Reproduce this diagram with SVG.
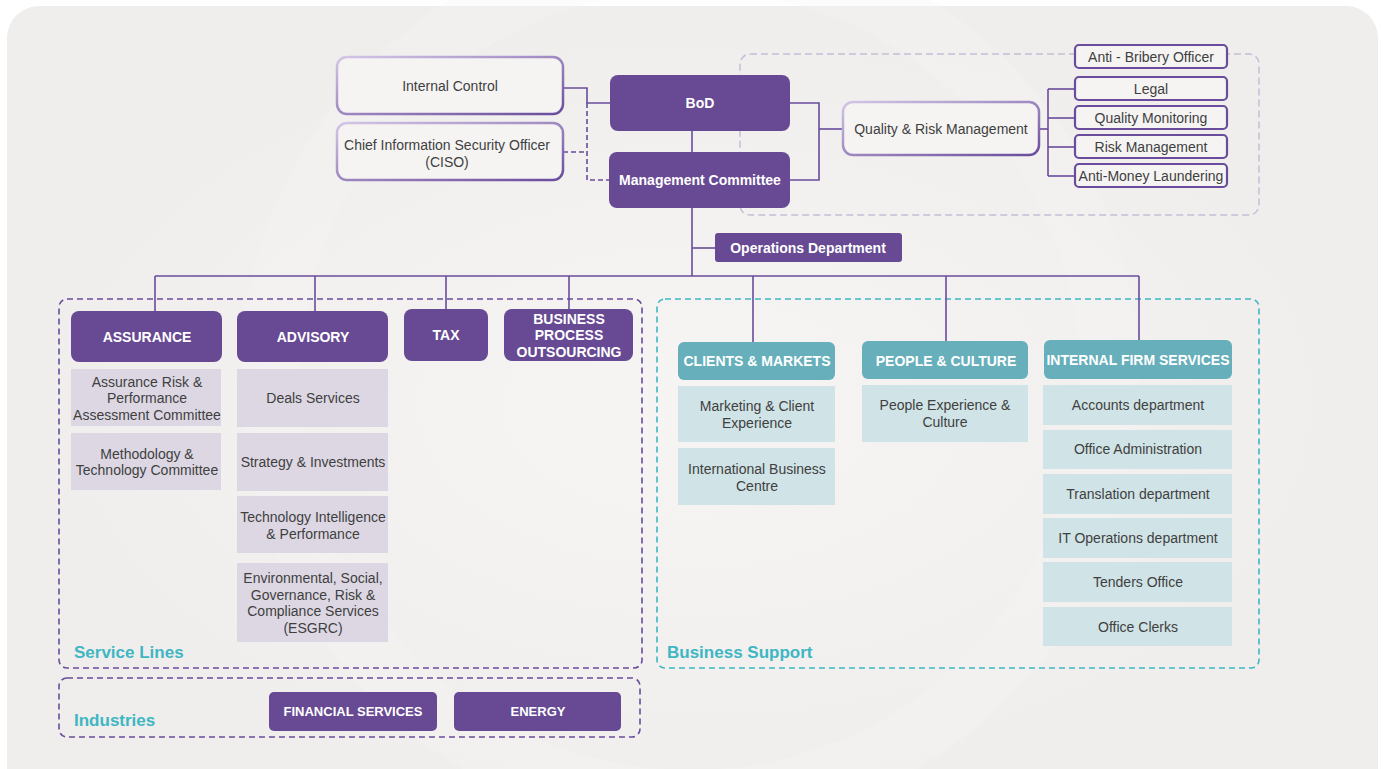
<svg xmlns="http://www.w3.org/2000/svg" width="1383" height="769" viewBox="0 0 1383 769">
<defs>
<linearGradient id="ob" x1="0" y1="0" x2="1" y2="1">
<stop offset="0" stop-color="#d3c6e6"/>
<stop offset="1" stop-color="#6a4c9c"/>
</linearGradient>
<radialGradient id="bgg" cx="0.5" cy="0.5" r="0.5">
<stop offset="0" stop-color="#f6f5f4"/>
<stop offset="1" stop-color="#efeeec"/>
</radialGradient>
<style>
.t{font-family:"Liberation Sans",Arial,sans-serif;font-size:14px;fill:#3f3f3f;text-anchor:middle}
.tb{font-family:"Liberation Sans",Arial,sans-serif;font-size:14px;font-weight:bold;fill:#ffffff;text-anchor:middle}
.lbl{font-family:"Liberation Sans",Arial,sans-serif;font-size:17px;font-weight:bold;fill:#3fb6c4}
.ob{fill:#f5f4f3;stroke:url(#ob);stroke-width:2.5}
.sb{fill:#f5f4f3;stroke:#6a4c9c;stroke-width:2.2}
.pb{fill:#674a93}
.ps{fill:#dcd7e3}
.tl{fill:#66afbb}
.ts{fill:#d0e3e6}
.ln{fill:none;stroke:#6a4c9c;stroke-width:1.6}
.dl{fill:none;stroke:#6a4c9c;stroke-width:1.6;stroke-dasharray:5 3}
</style>
</defs>
<rect x="0" y="0" width="1383" height="769" fill="#ffffff"/>
<rect x="7" y="6" width="1371" height="800" rx="32" fill="url(#bgg)"/>
<circle cx="690" cy="380" r="420" fill="none" stroke="#f7f6f5" stroke-width="60" opacity="0.3"/>

<!-- group containers -->
<g id="containers">
<rect x="740" y="54" width="519" height="161" rx="10" fill="none" stroke="#c6bdd6" stroke-width="1.5" stroke-dasharray="7 4"/>
<rect x="59" y="299" width="583" height="369" rx="8" fill="none" stroke="#6a4c9c" stroke-width="1.6" stroke-dasharray="6 4"/>
<rect x="657" y="299" width="602" height="369" rx="8" fill="none" stroke="#3fb6c4" stroke-width="1.6" stroke-dasharray="6 4"/>
<rect x="59" y="678" width="581" height="59" rx="8" fill="none" stroke="#6a4c9c" stroke-width="1.6" stroke-dasharray="6 4"/>
<text class="lbl" x="74" y="658">Service Lines</text>
<text class="lbl" x="667" y="658">Business Support</text>
<text class="lbl" x="74" y="726">Industries</text>
</g>

<!-- connectors -->
<g id="connectors">
<polyline class="ln" points="563,88 587,88 587,103 610,103"/>
<polyline class="dl" points="563,152 587,152"/>
<polyline class="dl" points="587,103 587,180 609,180"/>
<line class="ln" x1="692" y1="131" x2="692" y2="152"/>
<line class="ln" x1="692" y1="208" x2="692" y2="276"/>
<line class="ln" x1="692" y1="248" x2="715" y2="248"/>
<polyline class="ln" points="790,103 819,103 819,180 790,180"/>
<line class="ln" x1="819" y1="129" x2="843" y2="129"/>
<line class="ln" x1="1039" y1="129" x2="1048" y2="129"/>
<line class="ln" x1="1048" y1="89" x2="1048" y2="176"/>
<line class="ln" x1="1048" y1="89" x2="1075" y2="89"/>
<line class="ln" x1="1048" y1="118" x2="1075" y2="118"/>
<line class="ln" x1="1048" y1="147" x2="1075" y2="147"/>
<line class="ln" x1="1048" y1="176" x2="1075" y2="176"/>
<line class="ln" x1="155" y1="276" x2="1139" y2="276"/>
<line class="ln" x1="155" y1="276" x2="155" y2="311"/>
<line class="ln" x1="315" y1="276" x2="315" y2="311"/>
<line class="ln" x1="446" y1="276" x2="446" y2="309"/>
<line class="ln" x1="569" y1="276" x2="569" y2="309"/>
<line class="ln" x1="753" y1="276" x2="753" y2="342"/>
<line class="ln" x1="946" y1="276" x2="946" y2="341"/>
<line class="ln" x1="1139" y1="276" x2="1139" y2="340"/>
</g>

<g id="internal-control"><rect class="ob" x="337" y="57" width="226" height="57" rx="10"/><text class="t" x="450" y="91">Internal Control</text></g>
<g id="ciso"><rect class="ob" x="337" y="123" width="226" height="57" rx="10"/><text class="t" x="447" y="150">Chief Information Security Officer</text><text class="t" x="447" y="167">(CISO)</text></g>
<g id="bod"><rect class="pb" x="610" y="75" width="180" height="56" rx="8"/><text class="tb" x="700" y="108">BoD</text></g>
<g id="mc"><rect class="pb" x="609" y="152" width="181" height="56" rx="8"/><text class="tb" x="700" y="185">Management Committee</text></g>
<g id="ops"><rect class="pb" x="715" y="233" width="187" height="29" rx="3"/><text class="tb" x="808" y="253">Operations Department</text></g>
<g id="qrm"><rect class="ob" x="843" y="102" width="196" height="53" rx="10"/><text class="t" x="941" y="134">Quality &amp; Risk Management</text></g>
<g id="anti-bribery"><rect class="sb" x="1075" y="45" width="152" height="23" rx="4"/><text class="t" x="1151" y="62">Anti - Bribery Officer</text></g>
<g id="legal"><rect class="sb" x="1075" y="77" width="152" height="23" rx="4"/><text class="t" x="1151" y="94">Legal</text></g>
<g id="quality-monitoring"><rect class="sb" x="1075" y="106" width="152" height="23" rx="4"/><text class="t" x="1151" y="123">Quality Monitoring</text></g>
<g id="risk-management"><rect class="sb" x="1075" y="135" width="152" height="23" rx="4"/><text class="t" x="1151" y="152">Risk Management</text></g>
<g id="aml"><rect class="sb" x="1075" y="164" width="152" height="23" rx="4"/><text class="t" x="1151" y="181">Anti-Money Laundering</text></g>

<g id="assurance"><rect class="pb" x="71" y="311" width="151" height="51" rx="8"/><text class="tb" x="147" y="342">ASSURANCE</text></g>
<g id="arpac"><rect class="ps" x="71" y="369" width="150" height="57"/><text class="t" x="147" y="387">Assurance Risk &amp;</text><text class="t" x="147" y="403">Performance</text><text class="t" x="147" y="420">Assessment Committee</text></g>
<g id="mtc"><rect class="ps" x="71" y="433" width="150" height="57"/><text class="t" x="147" y="459">Methodology &amp;</text><text class="t" x="147" y="475">Technology Committee</text></g>
<g id="advisory"><rect class="pb" x="237" y="311" width="151" height="51" rx="8"/><text class="tb" x="313" y="342">ADVISORY</text></g>
<g id="deals"><rect class="ps" x="237" y="369" width="151" height="58"/><text class="t" x="313" y="403">Deals Services</text></g>
<g id="strategy"><rect class="ps" x="237" y="433" width="151" height="58"/><text class="t" x="313" y="467">Strategy &amp; Investments</text></g>
<g id="tip"><rect class="ps" x="237" y="496" width="151" height="57"/><text class="t" x="313" y="522">Technology Intelligence</text><text class="t" x="313" y="539">&amp; Performance</text></g>
<g id="esgrc"><rect class="ps" x="237" y="563" width="151" height="79"/><text class="t" x="313" y="583">Environmental, Social,</text><text class="t" x="313" y="600">Governance, Risk &amp;</text><text class="t" x="313" y="616">Compliance Services</text><text class="t" x="313" y="633">(ESGRC)</text></g>
<g id="tax"><rect class="pb" x="404" y="309" width="84" height="52" rx="8"/><text class="tb" x="446" y="340">TAX</text></g>
<g id="bpo"><rect class="pb" x="504" y="309" width="129" height="52" rx="8"/><text class="tb" x="569" y="324">BUSINESS</text><text class="tb" x="569" y="340">PROCESS</text><text class="tb" x="569" y="357">OUTSOURCING</text></g>

<g id="clients-markets"><rect class="tl" x="678" y="342" width="157" height="38" rx="6"/><text class="tb" x="757" y="366">CLIENTS &amp; MARKETS</text></g>
<g id="mce"><rect class="ts" x="678" y="386" width="157" height="56"/><text class="t" x="757" y="411">Marketing &amp; Client</text><text class="t" x="757" y="428">Experience</text></g>
<g id="ibc"><rect class="ts" x="678" y="448" width="157" height="57"/><text class="t" x="757" y="474">International Business</text><text class="t" x="757" y="491">Centre</text></g>
<g id="people-culture"><rect class="tl" x="862" y="341" width="166" height="38" rx="6"/><text class="tb" x="946" y="366">PEOPLE &amp; CULTURE</text></g>
<g id="pec"><rect class="ts" x="862" y="385" width="166" height="57"/><text class="t" x="945" y="410">People Experience &amp;</text><text class="t" x="945" y="427">Culture</text></g>
<g id="ifs"><rect class="tl" x="1044" y="340" width="188" height="39" rx="6"/><text class="tb" x="1138" y="365">INTERNAL FIRM SERVICES</text></g>
<g id="accounts"><rect class="ts" x="1043" y="385" width="189" height="40"/><text class="t" x="1138" y="410">Accounts department</text></g>
<g id="office-admin"><rect class="ts" x="1043" y="430" width="189" height="39"/><text class="t" x="1138" y="454">Office Administration</text></g>
<g id="translation"><rect class="ts" x="1043" y="474" width="189" height="40"/><text class="t" x="1138" y="499">Translation department</text></g>
<g id="it-ops"><rect class="ts" x="1043" y="518" width="189" height="40"/><text class="t" x="1138" y="543">IT Operations department</text></g>
<g id="tenders"><rect class="ts" x="1043" y="562" width="189" height="40"/><text class="t" x="1138" y="587">Tenders Office</text></g>
<g id="clerks"><rect class="ts" x="1043" y="607" width="189" height="39"/><text class="t" x="1138" y="632">Office Clerks</text></g>

<g id="financial-services"><rect class="pb" x="269" y="692" width="168" height="39" rx="5"/><text class="tb" x="353" y="716" style="font-size:13px">FINANCIAL SERVICES</text></g>
<g id="energy"><rect class="pb" x="454" y="692" width="167" height="39" rx="5"/><text class="tb" x="538" y="716" style="font-size:13px">ENERGY</text></g>
</svg>
